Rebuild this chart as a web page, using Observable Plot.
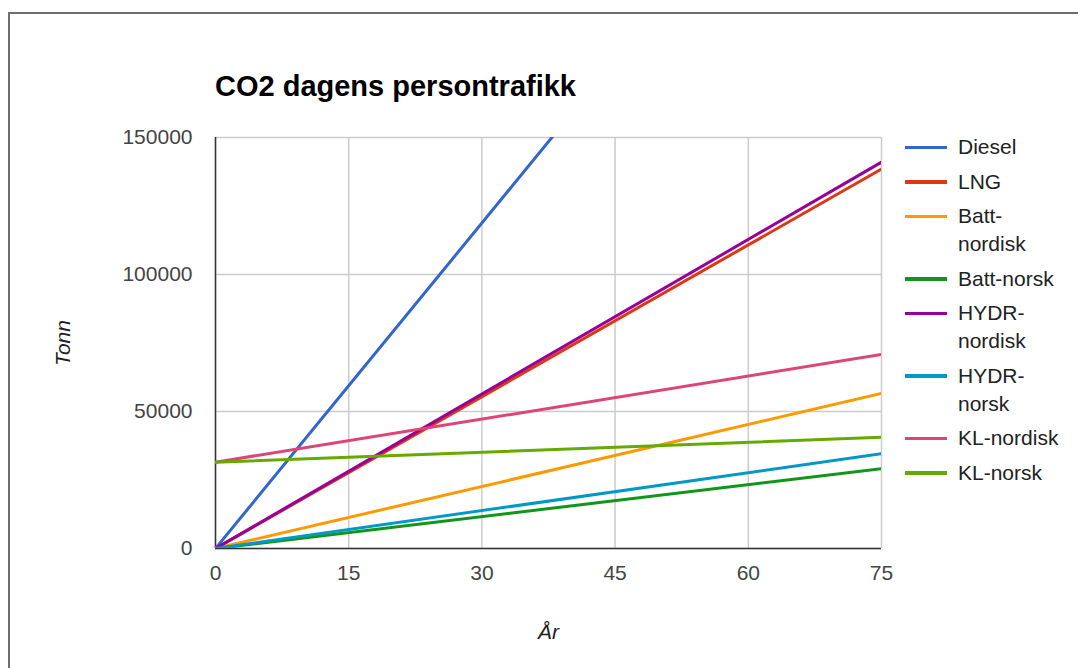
<!DOCTYPE html>
<html>
<head>
<meta charset="utf-8">
<script src="https://cdn.jsdelivr.net/npm/d3@7"></script>
<script src="https://cdn.jsdelivr.net/npm/@observablehq/plot@0.6"></script>
<style>
  html, body { margin: 0; padding: 0; background: #fff; }
  #page {
    position: relative; width: 1078px; height: 668px; overflow: hidden;
    font-family: "Liberation Sans", Arial, sans-serif;
  }
  #frame {
    position: absolute; left: 8px; top: 12px; right: -4px; bottom: -4px;
    border-left: 2px solid #6e6e6e; border-top: 2px solid #6e6e6e;
  }
  #title {
    position: absolute; left: 215px; top: 72px;
    font-size: 29px; line-height: 29px; font-weight: bold; color: #000;
    white-space: nowrap;
  }
  #chart { position: absolute; left: 0; top: 110px; }
  #chart svg [aria-label$="axis label"] text,
  #chart svg [aria-label$="axis label"] { font-style: italic; fill: #222; }
  #legend {
    position: absolute; left: 905px; top: 133px;
    font-size: 21px; line-height: 28px; color: #222;
  }
  .item { display: flex; align-items: flex-start; margin-bottom: 6.5px; }
  .swatch { width: 42px; height: 3.5px; margin-top: 12.5px; margin-right: 11px; flex: none; }
  .name { width: 106px; }
</style>
</head>
<body>
<div id="page">
  <div id="frame"></div>
  <div id="title">CO2 dagens persontrafikk</div>
  <div id="chart"></div>
  <div id="legend"></div>
</div>
<script>
// Series and their colours
const series = ["Diesel", "LNG", "Batt-nordisk", "Batt-norsk", "HYDR-nordisk", "HYDR-norsk", "KL-nordisk", "KL-norsk"];
const colors = ["#3366cc", "#dc3912", "#ff9900", "#109618", "#990099", "#0099c6", "#dd4477", "#66aa00"];

// Years (År) and accumulated CO2 (tonn) for each series
const years = [0, 75];
const diesel = [0, 297000];
const lng = [0, 138500];
const battNordisk = [0, 56600];
const battNorsk = [0, 29100];
const hydrNordisk = [0, 141000];
const hydrNorsk = [0, 34600];
const klNordisk = [31500, 70800];
const klNorsk = [31500, 40600];

// Axis ticks
const xTicks = [0, 15, 30, 45, 60, 75];
const yTicks = [0, 50000, 100000, 150000];

const values = [diesel, lng, battNordisk, battNorsk, hydrNordisk, hydrNorsk, klNordisk, klNorsk];
const rows = series.flatMap((s, i) => years.map((yr, j) => ({series: s, year: yr, value: values[i][j]})));

const chart = Plot.plot({
  width: 1078,
  height: 558,
  marginTop: 27,
  marginLeft: 215,
  marginRight: 197,
  marginBottom: 120,
  style: {fontFamily: "'Liberation Sans', Arial, sans-serif", fontSize: "21px", color: "#444", background: "transparent"},
  x: {domain: [0, 75]},
  y: {domain: [0, 150000]},
  color: {domain: series, range: colors},
  marks: [
    Plot.gridX(xTicks, {stroke: "#cccccc", strokeOpacity: 1, strokeWidth: 1.5}),
    Plot.gridY(yTicks, {stroke: "#cccccc", strokeOpacity: 1, strokeWidth: 1.5}),
    Plot.axisX(xTicks, {tickSize: 0, tickPadding: 17, fill: "#444", label: "År", labelArrow: "none", labelAnchor: "center", labelOffset: 90}),
    Plot.axisY(yTicks, {tickSize: 0, tickPadding: 23, fill: "#444", tickFormat: d => String(d), label: "Tonn", labelArrow: "none", labelAnchor: "center", labelOffset: 160}),
    Plot.ruleY([0], {stroke: "#333", strokeWidth: 1.5}),
    Plot.ruleX([0], {stroke: "#333", strokeWidth: 1.5}),
    Plot.line(rows, {x: "year", y: "value", z: "series", stroke: "series", strokeWidth: 3, clip: true})
  ]
});
document.getElementById("chart").appendChild(chart);

// Legend on the right
const legend = document.getElementById("legend");
series.forEach((s, i) => {
  const item = document.createElement("div");
  item.className = "item";
  const sw = document.createElement("div");
  sw.className = "swatch";
  sw.style.background = colors[i];
  const name = document.createElement("div");
  name.className = "name";
  name.textContent = s;
  item.append(sw, name);
  legend.appendChild(item);
});
</script>
</body>
</html>
